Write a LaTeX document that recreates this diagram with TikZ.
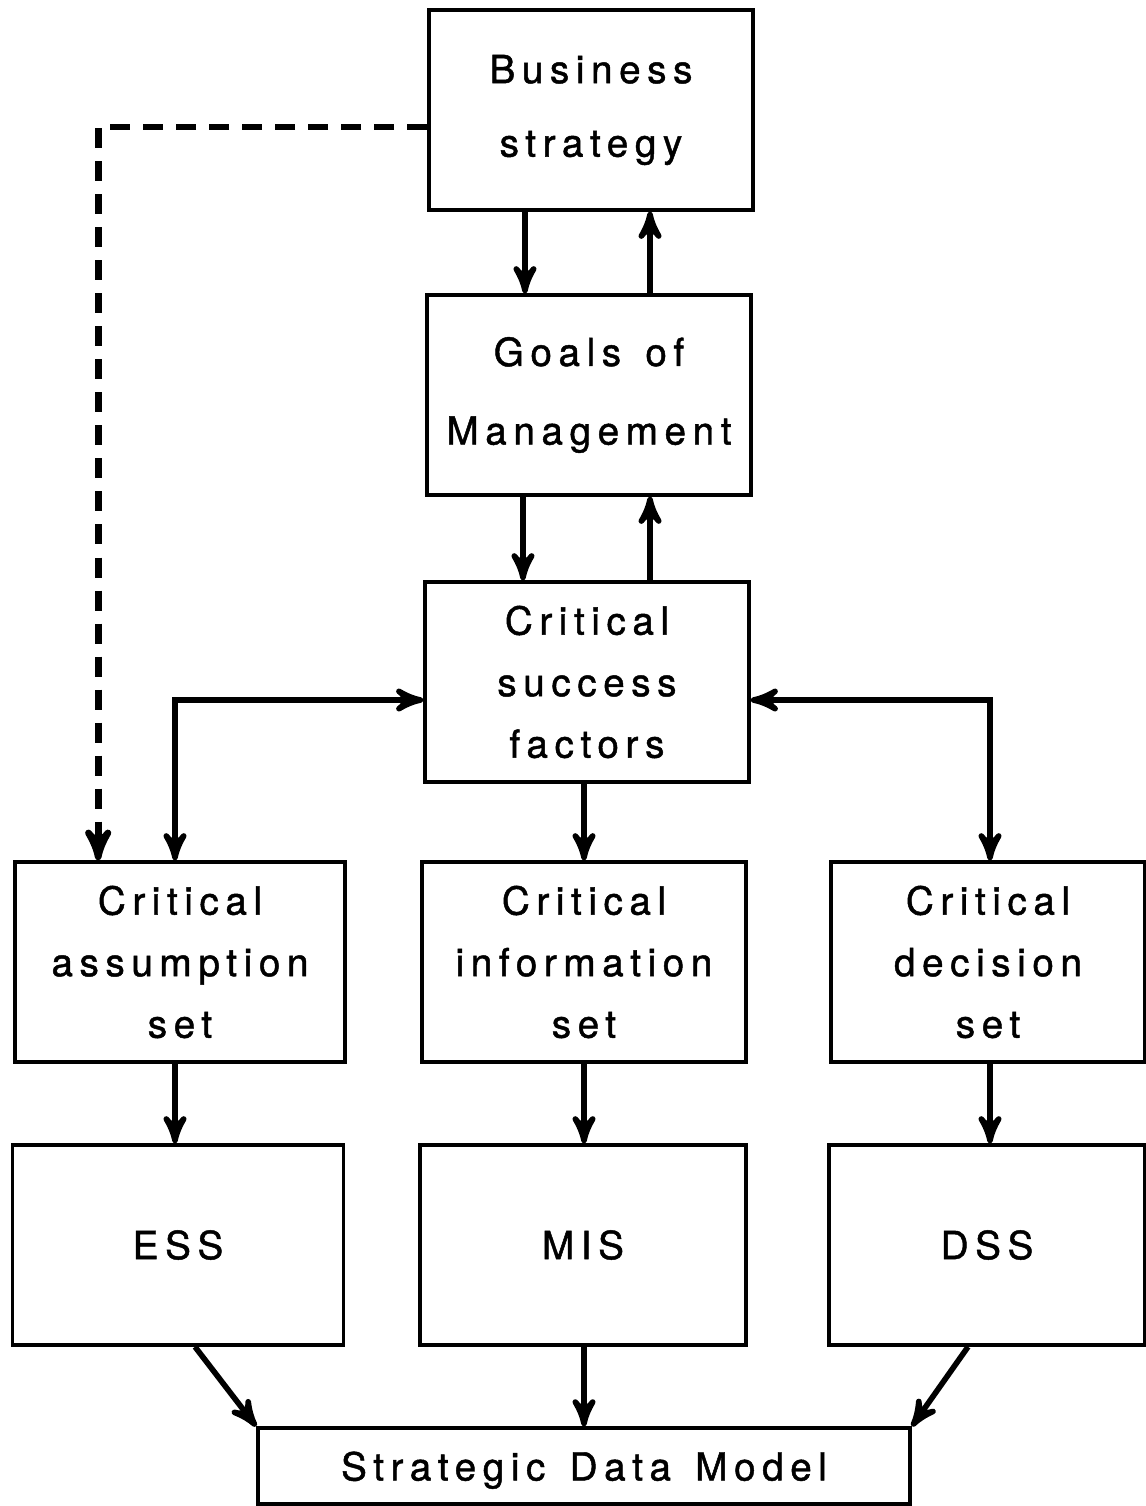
\documentclass[tikz,border=0pt]{standalone}
\usepackage{fontspec}
\setmainfont{TeX Gyre Heros}[LetterSpace=17,FakeBold=1.2,WordSpace=1.4]
\usetikzlibrary{positioning}
\usetikzlibrary{arrows}
\usetikzlibrary{calc}

\begin{document}
\begin{tikzpicture}[x=0.01cm,y=-0.01cm,>=stealth',
                    box/.style={rectangle,draw,line width=1pt,minimum width=3.24cm,minimum height=2cm,
                                align=center,font=\fontsize{11}{17.5}\selectfont},
                    link/.style={->,line width=1.6pt},
                    dashlink/.style={->,line width=1.9pt,dash pattern=on 0.2cm off 0.13cm}]
      \useasboundingbox (0,0) rectangle (1146,1506);

      \node[box] (biz) at (591,110) {Business\\[0.12cm]strategy};
      \node[box] (goals) at (589,395) {Goals of\\[0.17cm]Management};
      \node[box] (csf) at (587,682) {Critical\\success\\factors};

      \node[box,minimum width=3.3cm] (assume) at (180,962) {Critical\\assumption\\set};
      \node[box] (info) at (584,962) {Critical\\information\\set};
      \node[box,minimum width=3.14cm] (decide) at (988,962) {Critical\\decision\\set};

      \node[box,minimum width=3.31cm] (ess) at (178,1245) {ESS};
      \node[box,minimum width=3.26cm] (mis) at (583,1245) {MIS};
      \node[box,minimum width=3.16cm] (dss) at (987,1245) {DSS};

      \node[box,minimum width=6.52cm,minimum height=0.76cm,text depth=-0.1cm] (sdm) at (584,1466) {Strategic Data Model};

      % strategy and goals
      \draw[link] ([xshift=-0.66cm]biz.south) -- ([xshift=-0.66cm]biz.south |- goals.north);
      \draw[link] ([xshift=0.61cm]goals.north) -- ([xshift=0.61cm]goals.north |- biz.south);
      \draw[link] ([xshift=-0.66cm]goals.south) -- ([xshift=-0.66cm]goals.south |- csf.north);
      \draw[link] ([xshift=0.63cm]csf.north) -- ([xshift=0.63cm]csf.north |- goals.south);

      % dashed feedback
      \draw[dashlink] ([yshift=-0.17cm]biz.west) -| ([xshift=0.85cm]assume.north west);

      % success factors to the three sets
      \draw[link,<->] ([yshift=-0.18cm]csf.west) -| ([xshift=-0.05cm]assume.north);
      \draw[link,<->] ([yshift=-0.18cm]csf.east) -| ([xshift=0.02cm]decide.north);
      \draw[link] (csf.south -| info.north) -- (info.north);

      % sets to systems
      \draw[link] ([xshift=-0.05cm]assume.south) -- ([xshift=-0.05cm]assume.south |- ess.north);
      \draw[link] (info.south) -- (info.south |- mis.north);
      \draw[link] ([xshift=0.02cm]decide.south) -- ([xshift=0.02cm]decide.south |- dss.north);

      % systems to data model
      \draw[link] ([xshift=0.17cm]ess.south) -- (sdm.north west);
      \draw[link] (mis.south -| sdm.north) -- (sdm.north);
      \draw[link] ([xshift=-0.19cm]dss.south) -- (sdm.north east);

\end{tikzpicture}
\end{document}
